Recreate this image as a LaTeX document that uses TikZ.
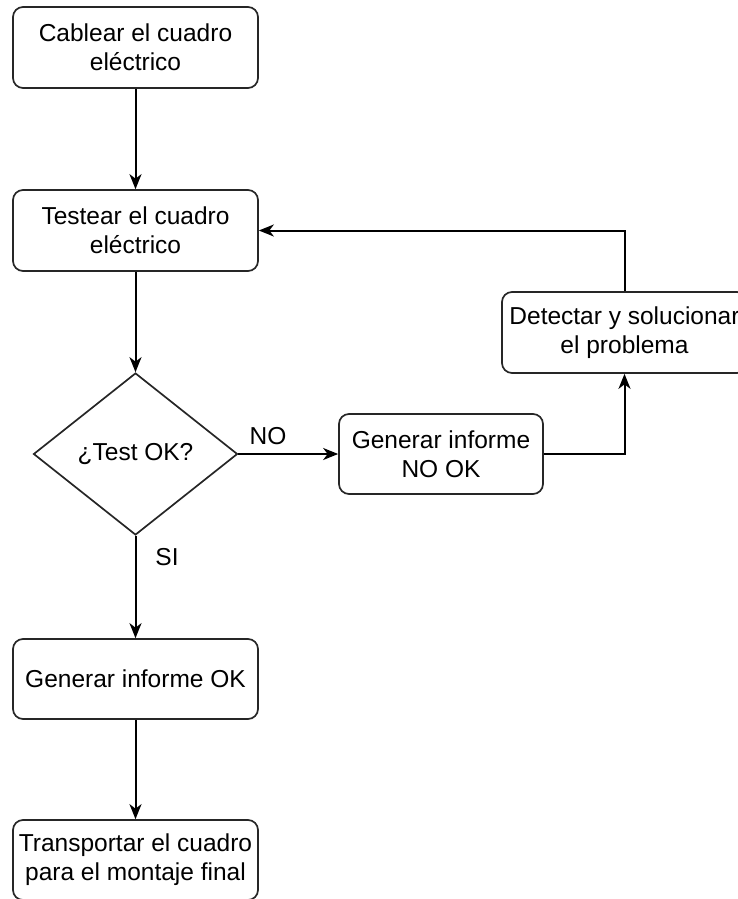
\documentclass[tikz,border=0pt]{standalone}
\usepackage{fontspec}
\setmainfont{Liberation Sans}
\usetikzlibrary{shapes.geometric,arrows.meta}
\begin{document}
\begin{tikzpicture}[x=1pt,y=-1pt,
  font=\fontsize{24.5}{29}\selectfont,
  stepbox/.style={draw=black!85,line width=1.7pt,rounded corners=10pt,minimum width=245pt,minimum height=81pt,align=center,inner sep=2pt},
  decision/.style={draw=black!85,line width=1.7pt,diamond,minimum width=204pt,minimum height=162pt,inner sep=0pt,aspect=1.26},
  conn/.style={draw=black,line width=2pt,-{Stealth[length=15pt,width=12pt,inset=4.5pt]}},
  lbl/.style={inner sep=0pt}]
\useasboundingbox (0,0) rectangle (737,899);
\node[stepbox] (b1) at (135.5,47.5) {Cablear el cuadro\\el\'ectrico};
\node[stepbox] (b2) at (135.5,230.5) {Testear el cuadro\\el\'ectrico};
\node[decision] (d) at (135.5,454) {¿Test OK?};
\node[stepbox,minimum width=204pt,minimum height=80pt] (nook) at (441,454) {Generar informe\\NO OK};
\node[stepbox] (det) at (624.5,332.5) {Detectar y solucionar\\el problema};
\node[stepbox,minimum height=80pt] (ok) at (135.5,679) {Generar informe OK};
\node[stepbox,minimum height=80pt] (bot) at (135.5,860) {Transportar el cuadro\\para el montaje final};
\node[lbl] (lno) at (268,436) {NO};
\node[lbl] (lsi) at (167,557) {SI};
\draw[conn] (b1) -- (b2);
\draw[conn] (b2) -- (d);
\draw[conn] (d) -- (ok);
\draw[conn] (ok) -- (bot);
\draw[conn] (d.east) -- (nook.west);
\draw[conn] (nook.east) -| (det.south);
\draw[conn] (det.north) |- (b2.east);
\end{tikzpicture}
\end{document}
